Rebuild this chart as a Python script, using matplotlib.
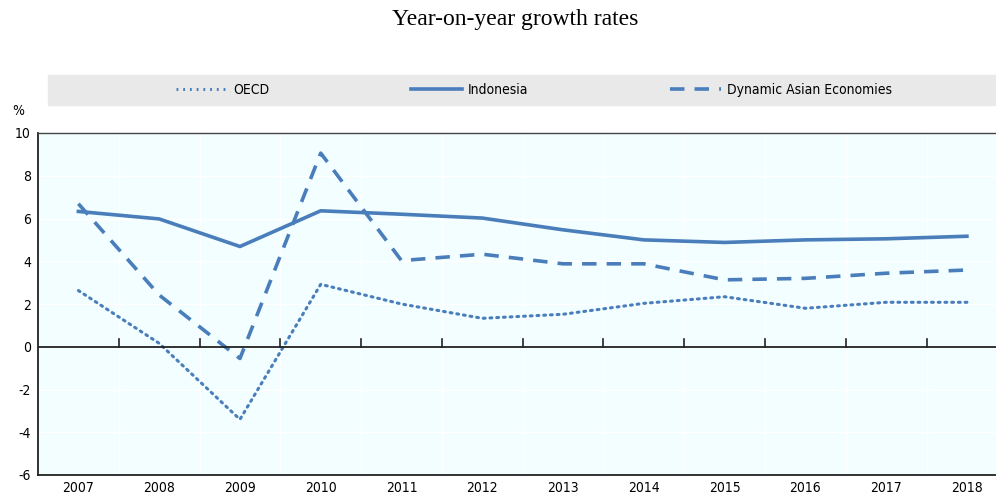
import matplotlib
matplotlib.use("Agg")
import matplotlib.pyplot as plt
from matplotlib.lines import Line2D
from matplotlib.font_manager import FontProperties

years = ["2007", "2008", "2009", "2010", "2011", "2012",
         "2013", "2014", "2015", "2016", "2017", "2018"]
oecd = [2.63, 0.16, -3.4, 2.92, 2.0, 1.33, 1.52, 2.03, 2.34, 1.8, 2.08, 2.08]
indonesia = [6.33, 5.98, 4.69, 6.36, 6.2, 6.02, 5.47, 5.0, 4.88, 5.0, 5.05, 5.17]
dae = [6.69, 2.42, -0.55, 9.06, 4.03, 4.33, 3.88, 3.88, 3.13, 3.2, 3.44, 3.59]

BLUE = "#4a7ebb"
plt.rcParams["font.family"] = ["DejaVu Sans"]
plt.rcParams["font.stretch"] = "condensed"
plt.rcParams["axes.unicode_minus"] = False

fp = FontProperties(family="DejaVu Sans", stretch="condensed", size=10)

W, H = 996, 495
fig = plt.figure(figsize=(W / 100, H / 100), dpi=100)
ax = fig.add_axes([38 / W, 1 - 475 / H, (996 - 38) / W, (475 - 133) / H])
ax.set_facecolor("#f2feff")

x = list(range(len(years)))
ax.plot(x, oecd, color=BLUE, lw=2.2, linestyle=(0, (0.6, 1.6)), dash_capstyle="round")
ax.plot(x, indonesia, color=BLUE, lw=2.6)
ax.plot(x, dae, color=BLUE, lw=2.6, linestyle=(0, (4, 2.8)))

ax.set_xlim(-0.5, 11.36)
ax.set_ylim(-6, 10)
ax.set_yticks(range(-6, 11, 2))
ax.set_xticks(x)
ax.set_xticklabels(years)
for lab in ax.get_xticklabels() + ax.get_yticklabels():
    lab.set_fontproperties(fp)
ax.tick_params(axis="x", length=0, pad=4)
ax.tick_params(axis="y", length=0, pad=5)

for b in [i + 0.5 for i in range(11)]:
    ax.axvline(b, color="white", lw=1, zorder=0)
for yv in range(-4, 11, 2):
    ax.axhline(yv, color="white", lw=1, zorder=0)
ax.axhline(0, color="#222222", lw=1.3, zorder=3)
for b in [i + 0.5 for i in range(11)]:
    ax.plot([b, b], [0, 0.35], color="#222222", lw=1.2, zorder=3)

for s in ["left", "bottom"]:
    ax.spines[s].set_color("#222222")
    ax.spines[s].set_linewidth(1.3)
ax.spines["top"].set_color("#444444")
ax.spines["top"].set_linewidth(1.0)
ax.spines["right"].set_visible(False)

fig.text(18 / W, 1 - 111 / H, "%", fontproperties=fp, ha="center", va="center")
fig.text(515 / W, 1 - 19 / H, "Year-on-year growth rates", fontsize=17,
         family="Liberation Serif", stretch="normal", ha="center", va="center")

# legend band
band = plt.Rectangle((48 / W, 1 - 105 / H), (996 - 48) / W, 30 / H,
                     transform=fig.transFigure, color="#e9e9e9", zorder=0)
fig.patches.append(band)
handles = [
    Line2D([], [], color=BLUE, lw=2.2, linestyle=(0, (0.6, 1.6))),
    Line2D([], [], color=BLUE, lw=2.6),
    Line2D([], [], color=BLUE, lw=2.6, linestyle=(0, (4, 2.8))),
]
fig.legend(handles, ["OECD", "Indonesia", "Dynamic Asian Economies"],
           loc="center", bbox_to_anchor=(534 / W, 1 - 90 / H), ncol=3,
           frameon=False, prop=fp, handlelength=3.7, handletextpad=0.4,
           columnspacing=10.2)

fig.savefig("out.png", dpi=100)
